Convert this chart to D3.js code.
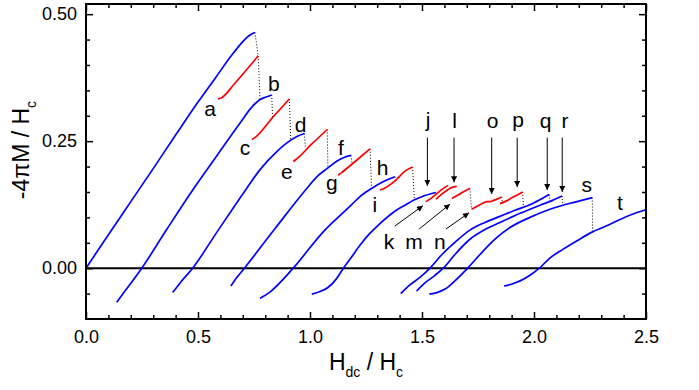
<!DOCTYPE html>
<html><head><meta charset="utf-8">
<script src="https://cdn.jsdelivr.net/npm/d3@7"></script>
<style>
body{margin:0;background:#fff}
svg{display:block}
text{font-family:"Liberation Sans",Arial,sans-serif;fill:#000}
</style></head>
<body><svg id="c" width="699" height="390"></svg>
<script>
// ---------- data (x = Hdc/Hc, y = -4πM/Hc) ----------
const xMajor=[0,0.5,1.0,1.5,2.0,2.5];
const xMinor=[0.1,0.2,0.3,0.4,0.6,0.7,0.8,0.9,1.1,1.2,1.3,1.4,1.6,1.7,1.8,1.9,2.1,2.2,2.3,2.4];
const yMajor=[0,0.25,0.5];
const yMinor=[-0.05,0.05,0.1,0.15,0.2,0.3,0.35,0.4,0.45];

const blue1=[[0,0],[0.1,0.066],[0.2,0.131],[0.3,0.196],[0.4,0.262],[0.5,0.327],[0.58,0.376],[0.65,0.419],[0.70,0.446],[0.72,0.455],[0.74,0.461],[0.754,0.464]];
const blue2=[[0.137,-0.067],[0.174,-0.045],[0.249,0],[0.360,0.076],[0.478,0.155],[0.585,0.222],[0.688,0.286],[0.746,0.320],[0.777,0.332],[0.804,0.337],[0.829,0.341]];
const blue3=[[0.387,-0.048],[0.420,-0.029],[0.476,0],[0.583,0.070],[0.714,0.155],[0.777,0.194],[0.853,0.230],[0.911,0.251],[0.946,0.260],[0.975,0.265]];
const blue4=[[0.647,-0.035],[0.674,-0.018],[0.707,0],[0.844,0.078],[0.982,0.155],[1.036,0.182],[1.076,0.196],[1.121,0.211],[1.152,0.218],[1.183,0.222]];
const blue5=[[0.777,-0.059],[0.821,-0.047],[0.925,0],[1.058,0.071],[1.179,0.122],[1.223,0.141],[1.275,0.157],[1.326,0.170],[1.379,0.180]];
const blue6=[[1.008,-0.051],[1.045,-0.046],[1.080,-0.038],[1.116,-0.022],[1.149,0],[1.179,0.018],[1.223,0.045],[1.268,0.069],[1.313,0.088],[1.379,0.112],[1.424,0.124],[1.469,0.135],[1.513,0.143],[1.5625,0.149]];
const blue7=[[1.405,-0.050],[1.446,-0.033],[1.491,-0.018],[1.536,0],[1.589,0.027],[1.647,0.051],[1.714,0.075],[1.781,0.090],[1.848,0.102],[1.915,0.114],[1.982,0.125],[2.027,0.135],[2.068,0.145]];
const blue8=[[1.476,-0.045],[1.513,-0.029],[1.558,-0.014],[1.595,0],[1.647,0.027],[1.714,0.057],[1.781,0.076],[1.848,0.090],[1.938,0.108],[2.027,0.124],[2.080,0.133],[2.125,0.142]];
const blue9=[[1.533,-0.051],[1.567,-0.048],[1.603,-0.041],[1.647,-0.025],[1.704,0],[1.759,0.027],[1.826,0.057],[1.893,0.080],[1.982,0.100],[2.071,0.116],[2.129,0.124],[2.183,0.130],[2.260,0.139]];
const blue10=[[1.866,-0.035],[1.902,-0.031],[1.938,-0.025],[1.982,-0.014],[2.024,0],[2.071,0.020],[2.129,0.037],[2.196,0.055],[2.259,0.071],[2.317,0.082],[2.384,0.096],[2.451,0.108],[2.5,0.115]];

const redA=[[0.589,0.333],[0.607,0.336],[0.661,0.362],[0.714,0.389],[0.769,0.418]];
const redC=[[0.740,0.253],[0.757,0.258],[0.832,0.296],[0.908,0.333]];
const redE=[[0.925,0.210],[0.9375,0.214],[1.007,0.244],[1.077,0.273]];
const redG=[[1.126,0.183],[1.141,0.188],[1.204,0.211],[1.268,0.235]];
const redI=[[1.3125,0.154],[1.335,0.158],[1.387,0.175],[1.424,0.191],[1.458,0.199]];
const redK=[[1.517,0.131],[1.545,0.139],[1.567,0.147],[1.589,0.155],[1.616,0.163]];
const redM=[[1.5625,0.136],[1.580,0.143],[1.607,0.152],[1.634,0.159],[1.655,0.161]];
const redN=[[1.633,0.137],[1.661,0.144],[1.688,0.151],[1.714,0.157]];
const redO=[[1.721,0.116],[1.750,0.123],[1.777,0.129],[1.790,0.131],[1.804,0.131],[1.817,0.133],[1.835,0.136],[1.856,0.140]];
const redP=[[1.848,0.127],[1.875,0.132],[1.902,0.139],[1.929,0.145],[1.949,0.150]];

const jumps=[
 [[0.754,0.464],[0.769,0.418],[0.777,0.332]],
 [[0.829,0.341],[0.833,0.297]],
 [[0.908,0.333],[0.914,0.252]],
 [[0.975,0.265],[0.980,0.235]],
 [[1.077,0.273],[1.080,0.197]],
 [[1.183,0.222],[1.188,0.205]],
 [[1.268,0.235],[1.275,0.157]],
 [[1.379,0.180],[1.383,0.174]],
 [[1.458,0.199],[1.466,0.134]],
 [[1.714,0.157],[1.721,0.116]],
 [[1.856,0.140],[1.858,0.131]],
 [[1.949,0.150],[1.953,0.120]],
 [[2.068,0.145],[2.072,0.132]],
 [[2.125,0.142],[2.129,0.124]],
 [[2.260,0.139],[2.262,0.071]]
];

const labelNames=["a","b","c","d","e","f","g","h","i","j","l","o","p","q","r","s","t","k","m","n"];
const labelX=[0.554,0.839,0.710,0.958,0.897,1.138,1.098,1.324,1.289,1.527,1.646,1.815,1.929,2.052,2.138,2.235,2.384,1.353,1.464,1.580];
const labelY=[0.300,0.348,0.222,0.269,0.175,0.222,0.153,0.184,0.110,0.278,0.276,0.276,0.278,0.276,0.276,0.149,0.114,0.037,0.037,0.037];

// arrows: [x0,y0,x1,y1]
const arrows=[
 [1.524,0.257,1.524,0.162],[1.643,0.257,1.643,0.169],[1.811,0.257,1.811,0.146],
 [1.925,0.257,1.925,0.160],[2.059,0.257,2.059,0.154],[2.126,0.257,2.126,0.150],
 [1.379,0.083,1.504,0.123],[1.487,0.077,1.625,0.126],[1.607,0.077,1.710,0.109]
];

// ---------- drawing ----------
const svg=d3.select("#c");
const x=d3.scaleLinear().domain([0,2.5]).range([86,646]);
const y=d3.scaleLinear().domain([-0.1,0.52]).range([319,4]);

svg.append("defs").append("marker").attr("id","ah")
  .attr("viewBox","0 0 10 10").attr("refX",10).attr("refY",5)
  .attr("markerUnits","userSpaceOnUse").attr("markerWidth",9).attr("markerHeight",6)
  .attr("orient","auto").append("path").attr("d","M0,0L10,5L0,10z").attr("fill","#000");

function ax(gen,tr,vals,size,pad,fmt,fs){
  const g=svg.append("g").attr("transform",tr)
    .call(gen.tickValues(vals).tickSize(size).tickPadding(pad).tickFormat(fmt));
  g.select(".domain").remove();
  g.selectAll("line").attr("stroke","#000").attr("stroke-width",1.5);
  g.selectAll("text").attr("font-size",fs).attr("fill","#000")
    .attr("font-family",'"Liberation Sans",Arial,sans-serif');
  return g;
}
const none=()=>"";
ax(d3.axisBottom(x),"translate(0,319)",xMajor,-7,11,d3.format(".1f"),18);
ax(d3.axisBottom(x),"translate(0,319)",xMinor,-4,0,none,0);
ax(d3.axisTop(x),"translate(0,4)",xMajor,-7,0,none,0);
ax(d3.axisTop(x),"translate(0,4)",xMinor,-4,0,none,0);
ax(d3.axisLeft(y),"translate(86,0)",yMajor,-7,9,d3.format(".2f"),18);
ax(d3.axisLeft(y),"translate(86,0)",yMinor,-4,0,none,0);
ax(d3.axisRight(y),"translate(646,0)",yMajor,-7,0,none,0);
ax(d3.axisRight(y),"translate(646,0)",yMinor,-4,0,none,0);

svg.append("line").attr("x1",x(0)).attr("x2",x(2.5)).attr("y1",y(0)).attr("y2",y(0))
  .attr("stroke","#000").attr("stroke-width",2);

const line=d3.line().x(d=>x(d[0])).y(d=>y(d[1])).curve(d3.curveMonotoneX);
const straight=d3.line().x(d=>x(d[0])).y(d=>y(d[1]));

svg.append("g").selectAll("path").data(jumps).join("path")
  .attr("d",straight).attr("fill","none").attr("stroke","#000")
  .attr("stroke-width",1).attr("stroke-dasharray","1,2");

const blues=[blue1,blue2,blue3,blue4,blue5,blue6,blue7,blue8,blue9,blue10];
const reds=[redA,redC,redE,redG,redI,redK,redM,redN,redO,redP];
svg.append("g").selectAll("path").data(blues).join("path")
  .attr("d",line).attr("fill","none").attr("stroke","#0000ff").attr("stroke-width",1.7);
svg.append("g").selectAll("path").data(reds).join("path")
  .attr("d",line).attr("fill","none").attr("stroke","#ff0000").attr("stroke-width",1.7);

svg.append("g").selectAll("line").data(arrows).join("line")
  .attr("x1",d=>x(d[0])).attr("y1",d=>y(d[1])).attr("x2",d=>x(d[2])).attr("y2",d=>y(d[3]))
  .attr("stroke","#000").attr("stroke-width",1).attr("marker-end","url(#ah)");

svg.append("g").selectAll("text").data(labelNames).join("text")
  .attr("x",(d,i)=>x(labelX[i])).attr("y",(d,i)=>y(labelY[i]))
  .attr("text-anchor","middle").attr("font-size",21).text(d=>d);

svg.append("rect").attr("x",86).attr("y",4).attr("width",560).attr("height",315)
  .attr("fill","none").attr("stroke","#000").attr("stroke-width",2);

// axis titles
const xt=svg.append("text").attr("x",366).attr("y",370).attr("text-anchor","middle").attr("font-size",23);
xt.append("tspan").text("H");
xt.append("tspan").attr("font-size",14).attr("dy",7).text("dc");
xt.append("tspan").attr("dy",-7).text(" / H");
xt.append("tspan").attr("font-size",14).attr("dy",7).text("c");

const yt=svg.append("text").attr("transform","translate(29,150) rotate(-90)")
  .attr("text-anchor","middle").attr("font-size",23);
yt.append("tspan").text("-4πM / H");
yt.append("tspan").attr("font-size",14).attr("dy",7).text("c");
</script></body></html>
